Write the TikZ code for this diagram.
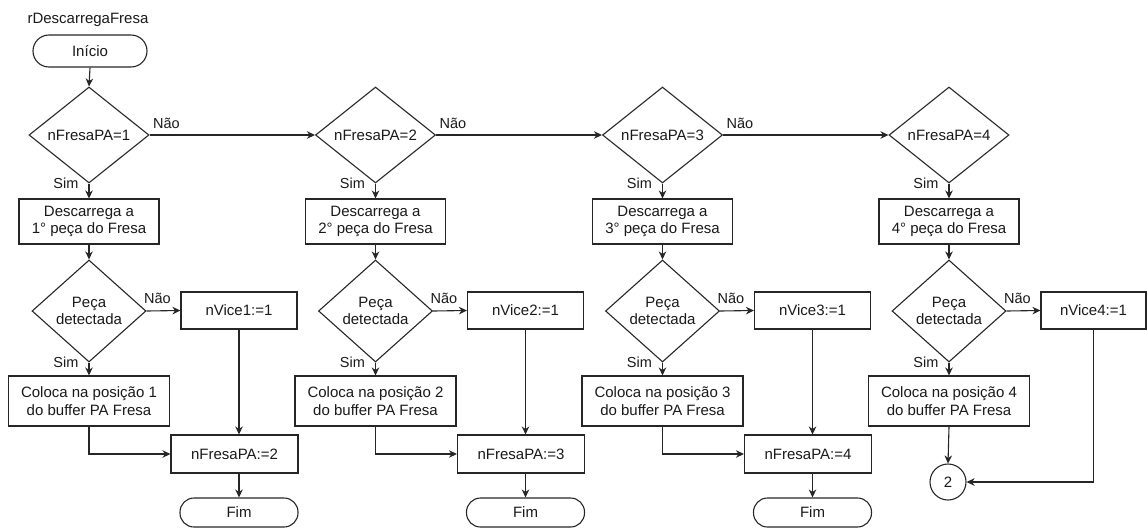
\documentclass[tikz,border=0pt]{standalone}
\usepackage{fontspec}
\setmainfont{Liberation Sans}
\usetikzlibrary{shapes.geometric,arrows.meta,calc}
\begin{document}
\begin{tikzpicture}[x=1pt,y=-1pt,
  every node/.style={font=\fontsize{15}{17.5}\selectfont, text=black!90},
  line/.style={draw=black!85, line width=1.1pt},
  arr/.style={line, -{Stealth[length=8pt,width=7.5pt,inset=2.5pt]}},
  proc/.style={line, rectangle, inner sep=2pt, align=center},
  term/.style={line, rectangle, rounded corners=#1, inner sep=2pt},
  decision/.style={line, diamond, inner sep=0pt, align=center},
  tag/.style={inner sep=0pt, font=\fontsize{14.5}{16}\selectfont}
]
\useasboundingbox (0,0) rectangle (1147,528);

% header and start terminal
\node (title) at (88,20) {rDescarregaFresa};
\node[term=16pt, minimum width=114pt, minimum height=32pt] (start) at (90,51) {Início};

% the four repeated columns
\foreach \i/\c in {1/89, 2/375.5, 3/662.5, 4/949} {
  \node[decision, minimum width=120pt, minimum height=96pt] (d\i) at (\c,135) {nFresaPA=\i};
  \node[proc, minimum width=140pt, minimum height=45pt] (u\i) at (\c,221.5) {Descarrega a\\\i° peça do Fresa};
  \node[decision, minimum width=114pt, minimum height=102pt] (p\i) at (\c,311) {Peça\\detectada};
  \node[proc, minimum width=161pt, minimum height=50pt] (k\i) at (\c,401) {Coloca na posição \i\\do buffer PA Fresa};

  \draw[arr] (d\i.south) -- node[tag, pos=0, anchor=east, xshift=-10pt] {Sim} (u\i.north);
  \draw[arr] (u\i.south) -- (p\i.north);
  \draw[arr] (p\i.south) -- node[tag, pos=0, anchor=east, xshift=-10pt] {Sim} (k\i.north);
}

% right-hand boxes of columns 1 to 3
\foreach \i/\c/\n in {1/89/2, 2/375.5/3, 3/662.5/4} {
  \node[proc, minimum width=116pt, minimum height=37pt] (v\i) at (\c+150,310.5) {nVice\i:=1};
  \node[proc, minimum width=127pt, minimum height=38pt] (n\i) at (\c+145.5,454) {nFresaPA:=\n};
  \node[term=14pt, minimum width=118pt, minimum height=29pt] (f\i) at (\c+150,512.5) {Fim};

  \draw[arr] (v\i.south) -- (v\i.south |- n\i.north);
  \draw[arr] (k\i.south) |- (n\i.west);
  \draw[arr] (f\i.north |- n\i.south) -- (f\i.north);
}

% last column ends in a connector
\node[proc, minimum width=105pt, minimum height=37pt] (v4) at (1093.5,310.5) {nVice4:=1};
\node[line, circle, minimum size=36pt, inner sep=0pt] (c2) at (948,482) {2};
\draw[arr] (k4.south) -- (c2.north);
\draw[arr] (v4.south) |- (c2.east);

% Não branches
\foreach \i in {1,2,3,4} {
  \draw[arr] (p\i.east) -- node[tag, pos=0, anchor=base west, xshift=-3pt, yshift=8pt] {Não} (v\i.west);
}
\foreach \i/\j in {1/2, 2/3, 3/4} {
  \draw[arr] (d\i.east) -- node[tag, pos=0, anchor=base west, xshift=3pt, yshift=7pt] {Não} (d\j.west);
}

\draw[arr] (start.south) -- (d1.north);
\end{tikzpicture}
\end{document}
